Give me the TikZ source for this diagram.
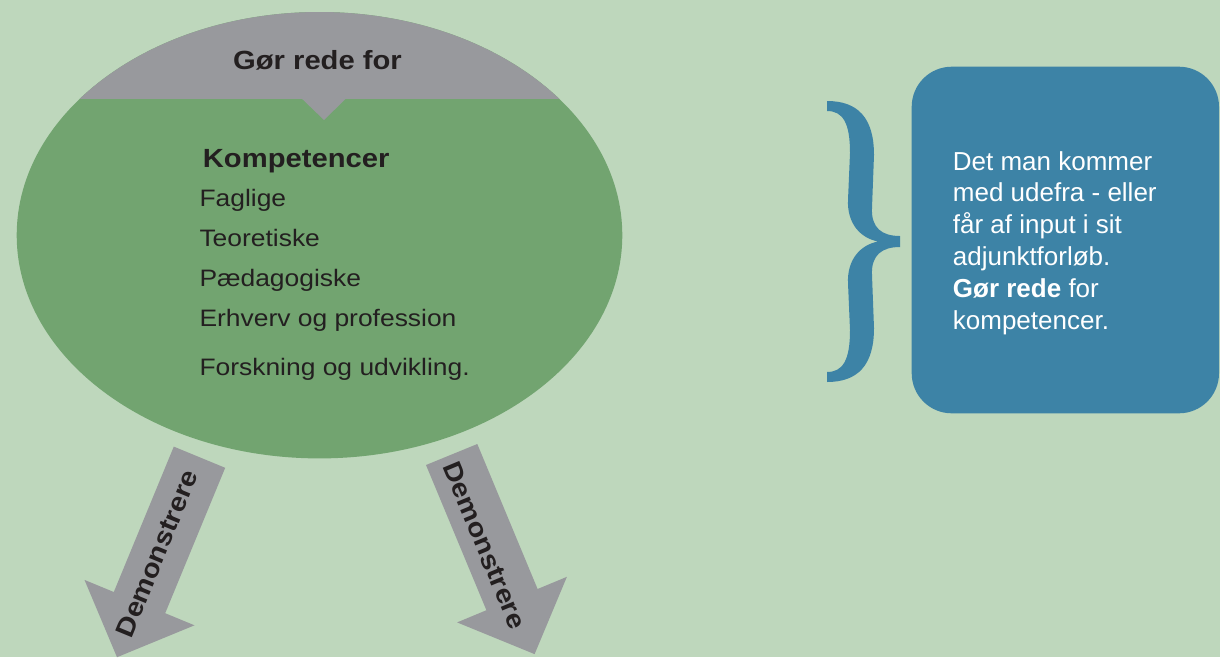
\documentclass[tikz,border=0pt]{standalone}
\usepackage{fontspec}
\setmainfont{Liberation Sans}
\newfontfamily\stfont[FakeStretch=1.11]{Liberation Sans}
\definecolor{bg}{RGB}{190,215,188}
\definecolor{ellgreen}{RGB}{114,164,112}
\definecolor{capgray}{RGB}{152,153,157}
\definecolor{boxblue}{RGB}{61,131,166}
\definecolor{ink}{RGB}{35,31,32}
\begin{document}
\begin{tikzpicture}[x=1pt,y=-1pt,
  titletext/.style={font={\stfont\bfseries\fontsize{26.3}{30}\selectfont}, text=ink, inner sep=0pt},
  listtext/.style={font={\stfont\fontsize{23.8}{28}\selectfont}, text=ink, inner sep=0pt, anchor=base west},
  arrowtext/.style={font={\stfont\bfseries\fontsize{26}{30}\selectfont}, text=ink, inner sep=0pt},
  boxtext/.style={font={\fontsize{26}{31.8}\selectfont}, text=white, inner sep=0pt, align=left},
  blockarrow/.style={fill=capgray}
]
\useasboundingbox (0,0) rectangle (1220,657);
\fill[bg] (0,0) rectangle (1220,657);

% ellipse with grey cap
\fill[ellgreen] (319.5,235.2) ellipse [x radius=302.8, y radius=223.2];
\begin{scope}
  \clip (319.5,235.2) ellipse [x radius=302.8, y radius=223.2];
  \fill[capgray] (0,0) rectangle (640,99);
\end{scope}
\fill[capgray] (301.7,98.5) -- (346,98.5) -- (324,120) -- cycle;

\node[titletext, anchor=base] (title) at (317.5,69.3) {Gør rede for};
\node[titletext, anchor=base west] (komp) at (202.7,167.3) {Kompetencer};
\node[listtext] (l1) at (199.3,206.7) {Faglige};
\node[listtext] (l2) at (199.3,246.5) {Teoretiske};
\node[listtext] (l3) at (199.3,286.5) {Pædagogiske};
\node[listtext] (l4) at (199.3,326.5) {Erhverv og profession};
\node[listtext] (l5) at (199.3,375) {Forskning og udvikling.};

% left block arrow
\fill[blockarrow] (173.8,446.6) -- (225.2,467.8) -- (165.2,613.2) -- (194.5,625.3)
  -- (117,657.2) -- (84.5,579.9) -- (113.8,592) -- cycle;
\node[arrowtext, rotate=67.6] (dem1) at (157,553.5) {Demonstrere};

% right block arrow
\fill[blockarrow] (426,465) -- (477.3,444) -- (537.6,589) -- (566.9,576.8)
  -- (534.6,654.1) -- (457.1,622.4) -- (486.4,610.2) -- cycle;
\node[arrowtext, rotate=-67.4] (dem2) at (484.7,545.5) {Demonstrere};

% brace
\fill[boxblue] (827,101)
  .. controls (858,101) and (874,118) .. (874,155)
  -- (872,208)
  .. controls (871,228) and (882,236) .. (900,236)
  -- (900,247)
  .. controls (882,247) and (871,255) .. (872,275)
  -- (874,328)
  .. controls (874,365) and (858,382) .. (827,382)
  -- (827,372)
  .. controls (843,372) and (850,360) .. (850,330)
  -- (848,283)
  .. controls (847,260) and (860,245) .. (878,241.5)
  .. controls (860,238) and (847,223) .. (848,200)
  -- (850,153)
  .. controls (850,123) and (843,111) .. (827,111)
  -- cycle;

% blue box
\fill[boxblue, rounded corners=40pt] (911.7,66.7) rectangle (1219,413.3);
\node[boxtext, anchor=north west] (boxt) at (952.7,151) {Det man kommer\\med udefra - eller\\får af input i sit\\adjunktforløb.\\\textbf{Gør rede} for\\kompetencer.};
\end{tikzpicture}
\end{document}
